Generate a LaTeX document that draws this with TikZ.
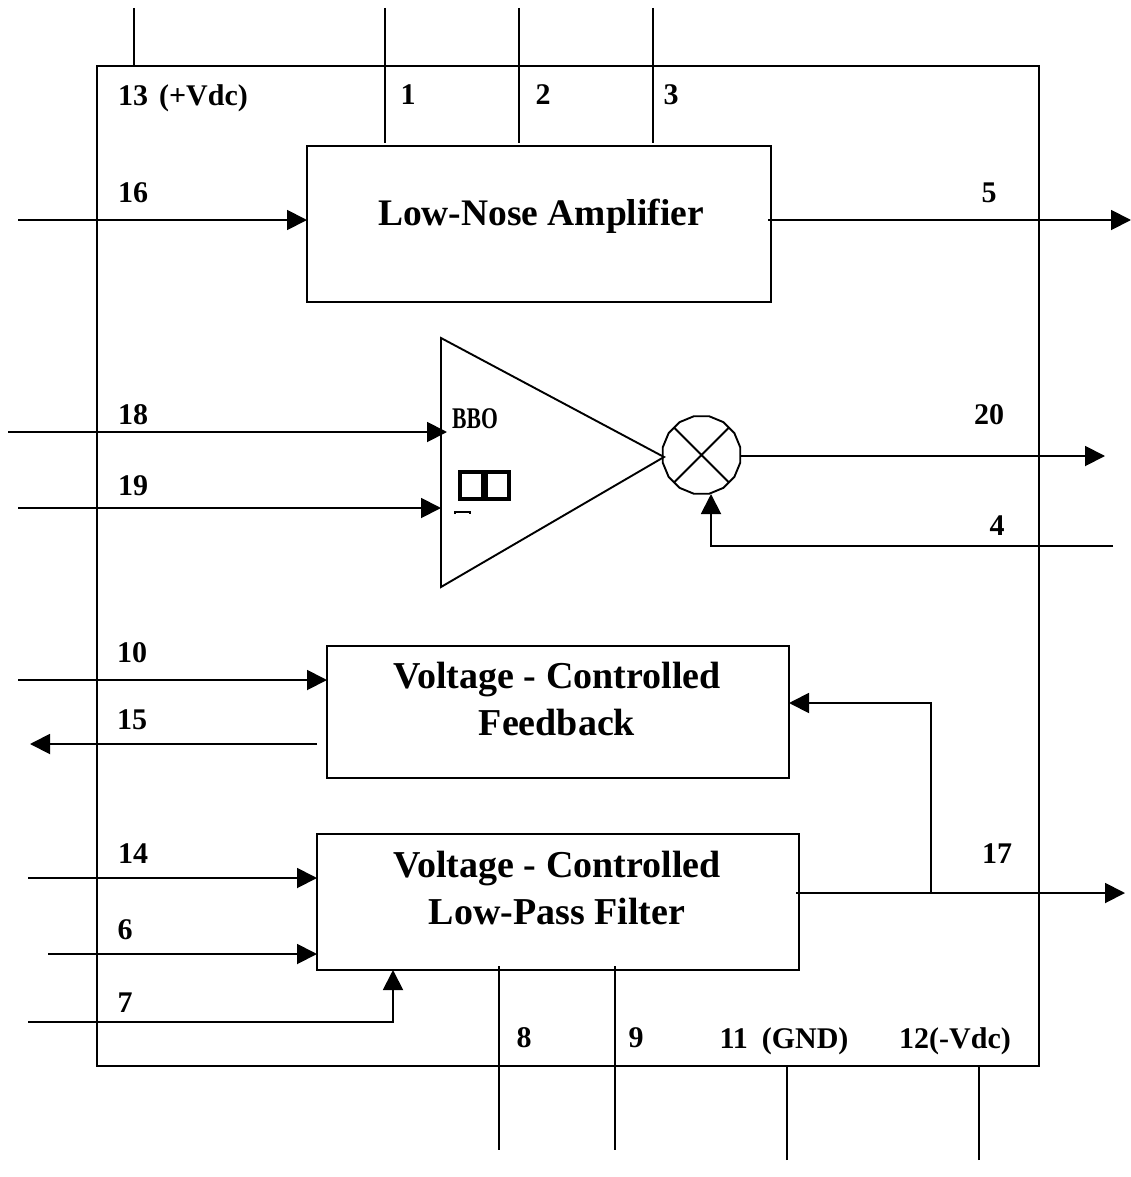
\documentclass[tikz,border=0pt]{standalone}
\usepackage{fontspec}
\setmainfont{Liberation Serif}
\usetikzlibrary{arrows.meta,shapes.geometric,positioning}
\tikzset{
  wire/.style={line width=1.9pt,line join=miter},
  arr/.style={wire,-{Triangle[length=20pt,width=20pt]}},
  lab/.style={font=\fontsize{30}{30}\selectfont\bfseries,inner sep=0pt,text=black},
  boxtext/.style={font=\fontsize{38}{47}\selectfont\bfseries,inner sep=0pt,align=center},
  blockbox/.style={draw,line width=1.9pt,inner sep=0pt,outer sep=0pt,anchor=north west},
  glyphbox/.style={draw,line width=4pt,inner sep=0pt,outer sep=0pt,anchor=north west,minimum width=23pt,minimum height=27pt}
}
\begin{document}
\begin{tikzpicture}[x=1pt,y=-1pt]
\useasboundingbox (0,0) rectangle (1131,1177);
% frame and blocks
\node[blockbox,minimum width=942pt,minimum height=1000pt] (chip) at (97,66) {};
\node[blockbox,minimum width=464pt,minimum height=156pt] (lna) at (307,146) {};
\node[blockbox,minimum width=462pt,minimum height=132pt] (vcf) at (327,646) {};
\node[blockbox,minimum width=482pt,minimum height=136pt] (lpf) at (317,834) {};
\node[boxtext,font=\fontsize{37.5}{47}\selectfont\bfseries] (lnat) at (541,216) {Low-Nose Amplifier};
\node[boxtext] (vcft) at (557,699) {Voltage - Controlled\\Feedback};
\node[boxtext] (lpft) at (557,888) {Voltage - Controlled\\Low-Pass Filter};
% amplifier triangle and mixer
\coordinate (ta) at (441,338);
\coordinate (tb) at (441,587);
\coordinate (tc) at (664,457);
\draw[wire,line join=miter] (ta) -- (tc) -- (tb) -- cycle;
\node[draw,line width=1.9pt,regular polygon,regular polygon sides=16,minimum size=79pt,inner sep=0pt,outer sep=0pt] (mix) at (701.5,455) {};
\draw[wire] (mix.45) -- (mix.225) (mix.135) -- (mix.315);
% glyphs inside the triangle
\node[lab,inner sep=0pt,anchor=center] (bbo) at (475,419) {\scalebox{.72}[1]{BBO}};
\node[glyphbox] (g1) at (460,472) {};
\node[glyphbox] (g2) at (486,472) {};
\coordinate (d1) at (455,514);
\coordinate (d2) at (470,514);
\draw[line width=1.5pt] (d1) |- ++(15,-2) -- (d2);
% free ends
\foreach \n/\x/\y in {p13/134/8,p1/385/8,p2/519/8,p3/653/8,i16/18/220,o5/1131/220,i18/8/432,i19/18/508,
  o20/1105/456,i4/1113/546,i10/18/680,o15/30/744,o17/1125/893,i14/28/878,i6/48/954,i7/28/1022,
  p8/499/1150,p9/615/1150,p11/787/1160,p12/979/1160,j17/931/893,s5/768/220,s17/796/893,s15/317/744,
  s8/499/966,s9/615/966,t18/447/432,t1/385/143,t2/519/143,t3/653/143,k4/711/546,k7/393/1022,m4/711/494,f1/931/703,f2/789/703}
  {\coordinate (\n) at (\x,\y);}
% connectors
\draw[wire] (p13) -- (p13 |- chip.north);
\draw[wire] (p1) -- (t1);
\draw[wire] (p2) -- (t2);
\draw[wire] (p3) -- (t3);
\draw[arr] (i16) -- (i16 -| lna.west);
\draw[arr] (s5) -- (o5);
\draw[arr] (i18) -- (t18);
\draw[arr] (i19) -- (i19 -| ta);
\draw[arr] (mix.east |- o20) -- (o20);
\draw[arr] (i4) -- (k4) -- (m4);
\draw[arr] (i10) -- (i10 -| vcf.west);
\draw[arr] (s15) -- (o15);
\draw[arr] (j17) -- (f1) -- (f2);
\draw[arr] (s17) -- (o17);
\draw[arr] (i14) -- (i14 -| lpf.west);
\draw[arr] (i6) -- (i6 -| lpf.west);
\draw[arr] (i7) -- (k7) -- (k7 |- lpf.south);
\draw[wire] (s8) -- (p8);
\draw[wire] (s9) -- (p9);
\draw[wire] (p11) -- (p11 |- chip.south);
\draw[wire] (p12) -- (p12 |- chip.south);
% pin labels
\node[lab] (l13) at (183,98) {13\hspace{11pt}(+Vdc)};
\node[lab] (l1) at (408,95) {1};
\node[lab] (l2) at (543,95) {2};
\node[lab] (l3) at (671,95) {3};
\node[lab] (l16) at (133,193) {16};
\node[lab] (l5) at (989,193) {5};
\node[lab] (l18) at (133,415) {18};
\node[lab] (l20) at (989,415) {20};
\node[lab] (l19) at (133,486) {19};
\node[lab] (l4) at (997,526) {4};
\node[lab] (l10) at (132,653) {10};
\node[lab] (l15) at (132,720) {15};
\node[lab] (l14) at (133,854) {14};
\node[lab] (l17) at (997,854) {17};
\node[lab] (l6) at (125,930) {6};
\node[lab] (l7) at (125,1003) {7};
\node[lab] (l8) at (524,1038) {8};
\node[lab] (l9) at (636,1038) {9};
\node[lab] (l11) at (784,1041) {11\hspace{14pt}(GND)};
\node[lab] (l12) at (955,1041) {12(-Vdc)};
\end{tikzpicture}
\end{document}
